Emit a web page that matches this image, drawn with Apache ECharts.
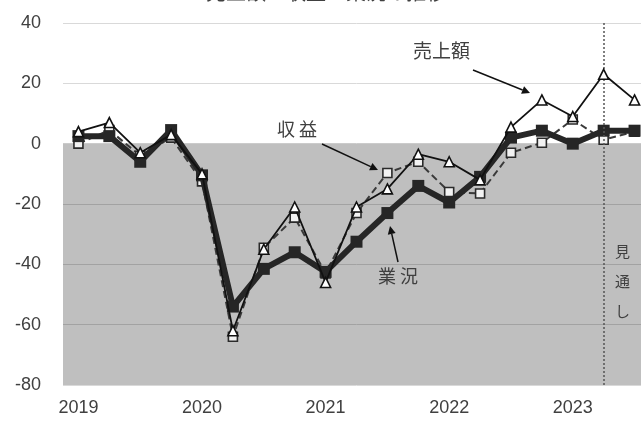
<!DOCTYPE html>
<html>
<head>
<meta charset="utf-8">
<script src="https://cdn.jsdelivr.net/npm/echarts@6/dist/echarts.min.js"></script>
<style>
  html, body { margin: 0; padding: 0; background: #fff; overflow: hidden; }
  /* the plot runs a few pixels past the right edge of the window */
  #chart { width: 650px; height: 425px; }
</style>
</head>
<body>
<div id="chart"></div>
<script>
// Quarterly DI, 2019 Q1 – 2023 Q3 (last two quarters are outlook values)
const quarters = [
  '2019Q1', '2019Q2', '2019Q3', '2019Q4',
  '2020Q1', '2020Q2', '2020Q3', '2020Q4',
  '2021Q1', '2021Q2', '2021Q3', '2021Q4',
  '2022Q1', '2022Q2', '2022Q3', '2022Q4',
  '2023Q1', '2023Q2', '2023Q3'
];
const sales = [4, 7, -3, 3, -10, -62, -35, -21, -46, -21, -15, -3.5, -6, -12, 5.5, 14.5, 9, 23, 14.5];
const profit = [0, 4.5, -4, 2, -12.5, -64, -34.5, -24.5, -43, -23, -9.7, -6, -16, -16.5, -3, 0.3, 8, 1.3, 4];
const business = [2.5, 2.5, -6, 4.5, -10.5, -54, -41.5, -36, -42.5, -32.5, -23, -14, -19.5, -11, 2, 4.3, 0, 4.3, 4.3];
const yTicks = [-80, -60, -40, -20, 0, 20, 40];
const outlookFrom = '2023Q2';

const jpFont = '"Noto Sans CJK JP", "Noto Sans", sans-serif';
const numFont = '"Liberation Sans", "Open Sans", sans-serif';

const chart = echarts.init(document.getElementById('chart'), null, { renderer: 'canvas' });

chart.setOption({
  animation: false,
  backgroundColor: '#ffffff',
  grid: { left: 63, right: 0, top: 23, bottom: 40, containLabel: false },
  xAxis: {
    type: 'category',
    data: quarters,
    boundaryGap: true,
    axisLine: { show: false },
    axisTick: { show: false },
    axisLabel: {
      interval: 3,
      margin: 14,
      formatter: v => v.slice(0, 4),
      fontFamily: numFont,
      fontSize: 18,
      color: '#404040'
    },
    splitLine: { show: false }
  },
  yAxis: {
    type: 'value',
    min: yTicks[0],
    max: yTicks[yTicks.length - 1],
    interval: 20,
    axisLine: { show: false },
    axisTick: { show: false },
    axisLabel: { margin: 22, fontFamily: numFont, fontSize: 18, color: '#404040' },
    splitLine: { lineStyle: { color: '#d9d9d9', width: 1 } }
  },
  series: [
    {
      // shaded negative zone plus the outlook divider
      type: 'line',
      data: [],
      z: 1,
      silent: true,
      markArea: {
        silent: true,
        itemStyle: { color: 'rgba(0,0,0,0.25)' },
        data: [[{ yAxis: yTicks[0] }, { yAxis: 0 }]]
      },
      markLine: {
        silent: true,
        symbol: 'none',
        label: { show: false },
        lineStyle: { color: '#555', type: [2, 2], width: 1.5 },
        data: [{ xAxis: outlookFrom }]
      }
    },
    {
      name: '収益',
      type: 'line',
      data: profit,
      z: 3,
      symbol: 'rect',
      symbolSize: 9,
      lineStyle: { color: '#3a3a3a', width: 2, type: [7, 4] },
      itemStyle: { color: '#f2f2f2', borderColor: '#2a2a2a', borderWidth: 1.6 }
    },
    {
      name: '業況',
      type: 'line',
      data: business,
      z: 4,
      symbol: 'rect',
      symbolSize: 12,
      lineStyle: { color: '#262626', width: 6 },
      itemStyle: { color: '#262626', borderWidth: 0 }
    },
    {
      name: '売上額',
      type: 'line',
      data: sales,
      z: 5,
      symbol: 'triangle',
      symbolSize: 10,
      lineStyle: { color: '#111', width: 1.8 },
      itemStyle: { color: '#fff', borderColor: '#111', borderWidth: 1.6 }
    }
  ]
});

// Title (runs off the top edge), callout labels with arrows, and the outlook note
const labelStyle = { fontFamily: jpFont, fontSize: 18, fill: '#404040' };
function arrow(x1, y1, x2, y2) {
  const a = Math.atan2(y2 - y1, x2 - x1);
  const h = 8, w = 4;
  const bx = x2 - h * Math.cos(a), by = y2 - h * Math.sin(a);
  return [
    { type: 'line', shape: { x1, y1, x2: bx, y2: by }, style: { stroke: '#111', lineWidth: 1.5 }, z: 10 },
    {
      type: 'polygon',
      shape: { points: [[x2, y2], [bx + w * Math.sin(a), by - w * Math.cos(a)], [bx - w * Math.sin(a), by + w * Math.cos(a)]] },
      style: { fill: '#111' }, z: 10
    }
  ];
}
chart.setOption({
  graphic: [
    {
      type: 'text', x: 326, y: -18, z: 10,
      style: { text: '売上額・収益・業況の推移', fontFamily: jpFont, fontSize: 20, fill: '#404040', align: 'center' }
    },
    { type: 'text', x: 413, y: 41, style: Object.assign({ text: '売上額' }, labelStyle, { fontSize: 19 }), z: 10 },
    ...arrow(473, 70, 530, 93),
    { type: 'text', x: 277, y: 120, style: Object.assign({ text: '収 益' }, labelStyle), z: 10 },
    ...arrow(322, 144, 378, 170),
    { type: 'text', x: 378, y: 267, style: Object.assign({ text: '業 況' }, labelStyle), z: 10 },
    ...arrow(398, 262, 390, 226),
    { type: 'text', x: 615, y: 244, style: Object.assign({ text: '見' }, labelStyle, { fontSize: 15 }), z: 10 },
    { type: 'text', x: 615, y: 274, style: Object.assign({ text: '通' }, labelStyle, { fontSize: 15 }), z: 10 },
    { type: 'text', x: 615, y: 304, style: Object.assign({ text: 'し' }, labelStyle, { fontSize: 15 }), z: 10 }
  ]
});
</script>
</body>
</html>
